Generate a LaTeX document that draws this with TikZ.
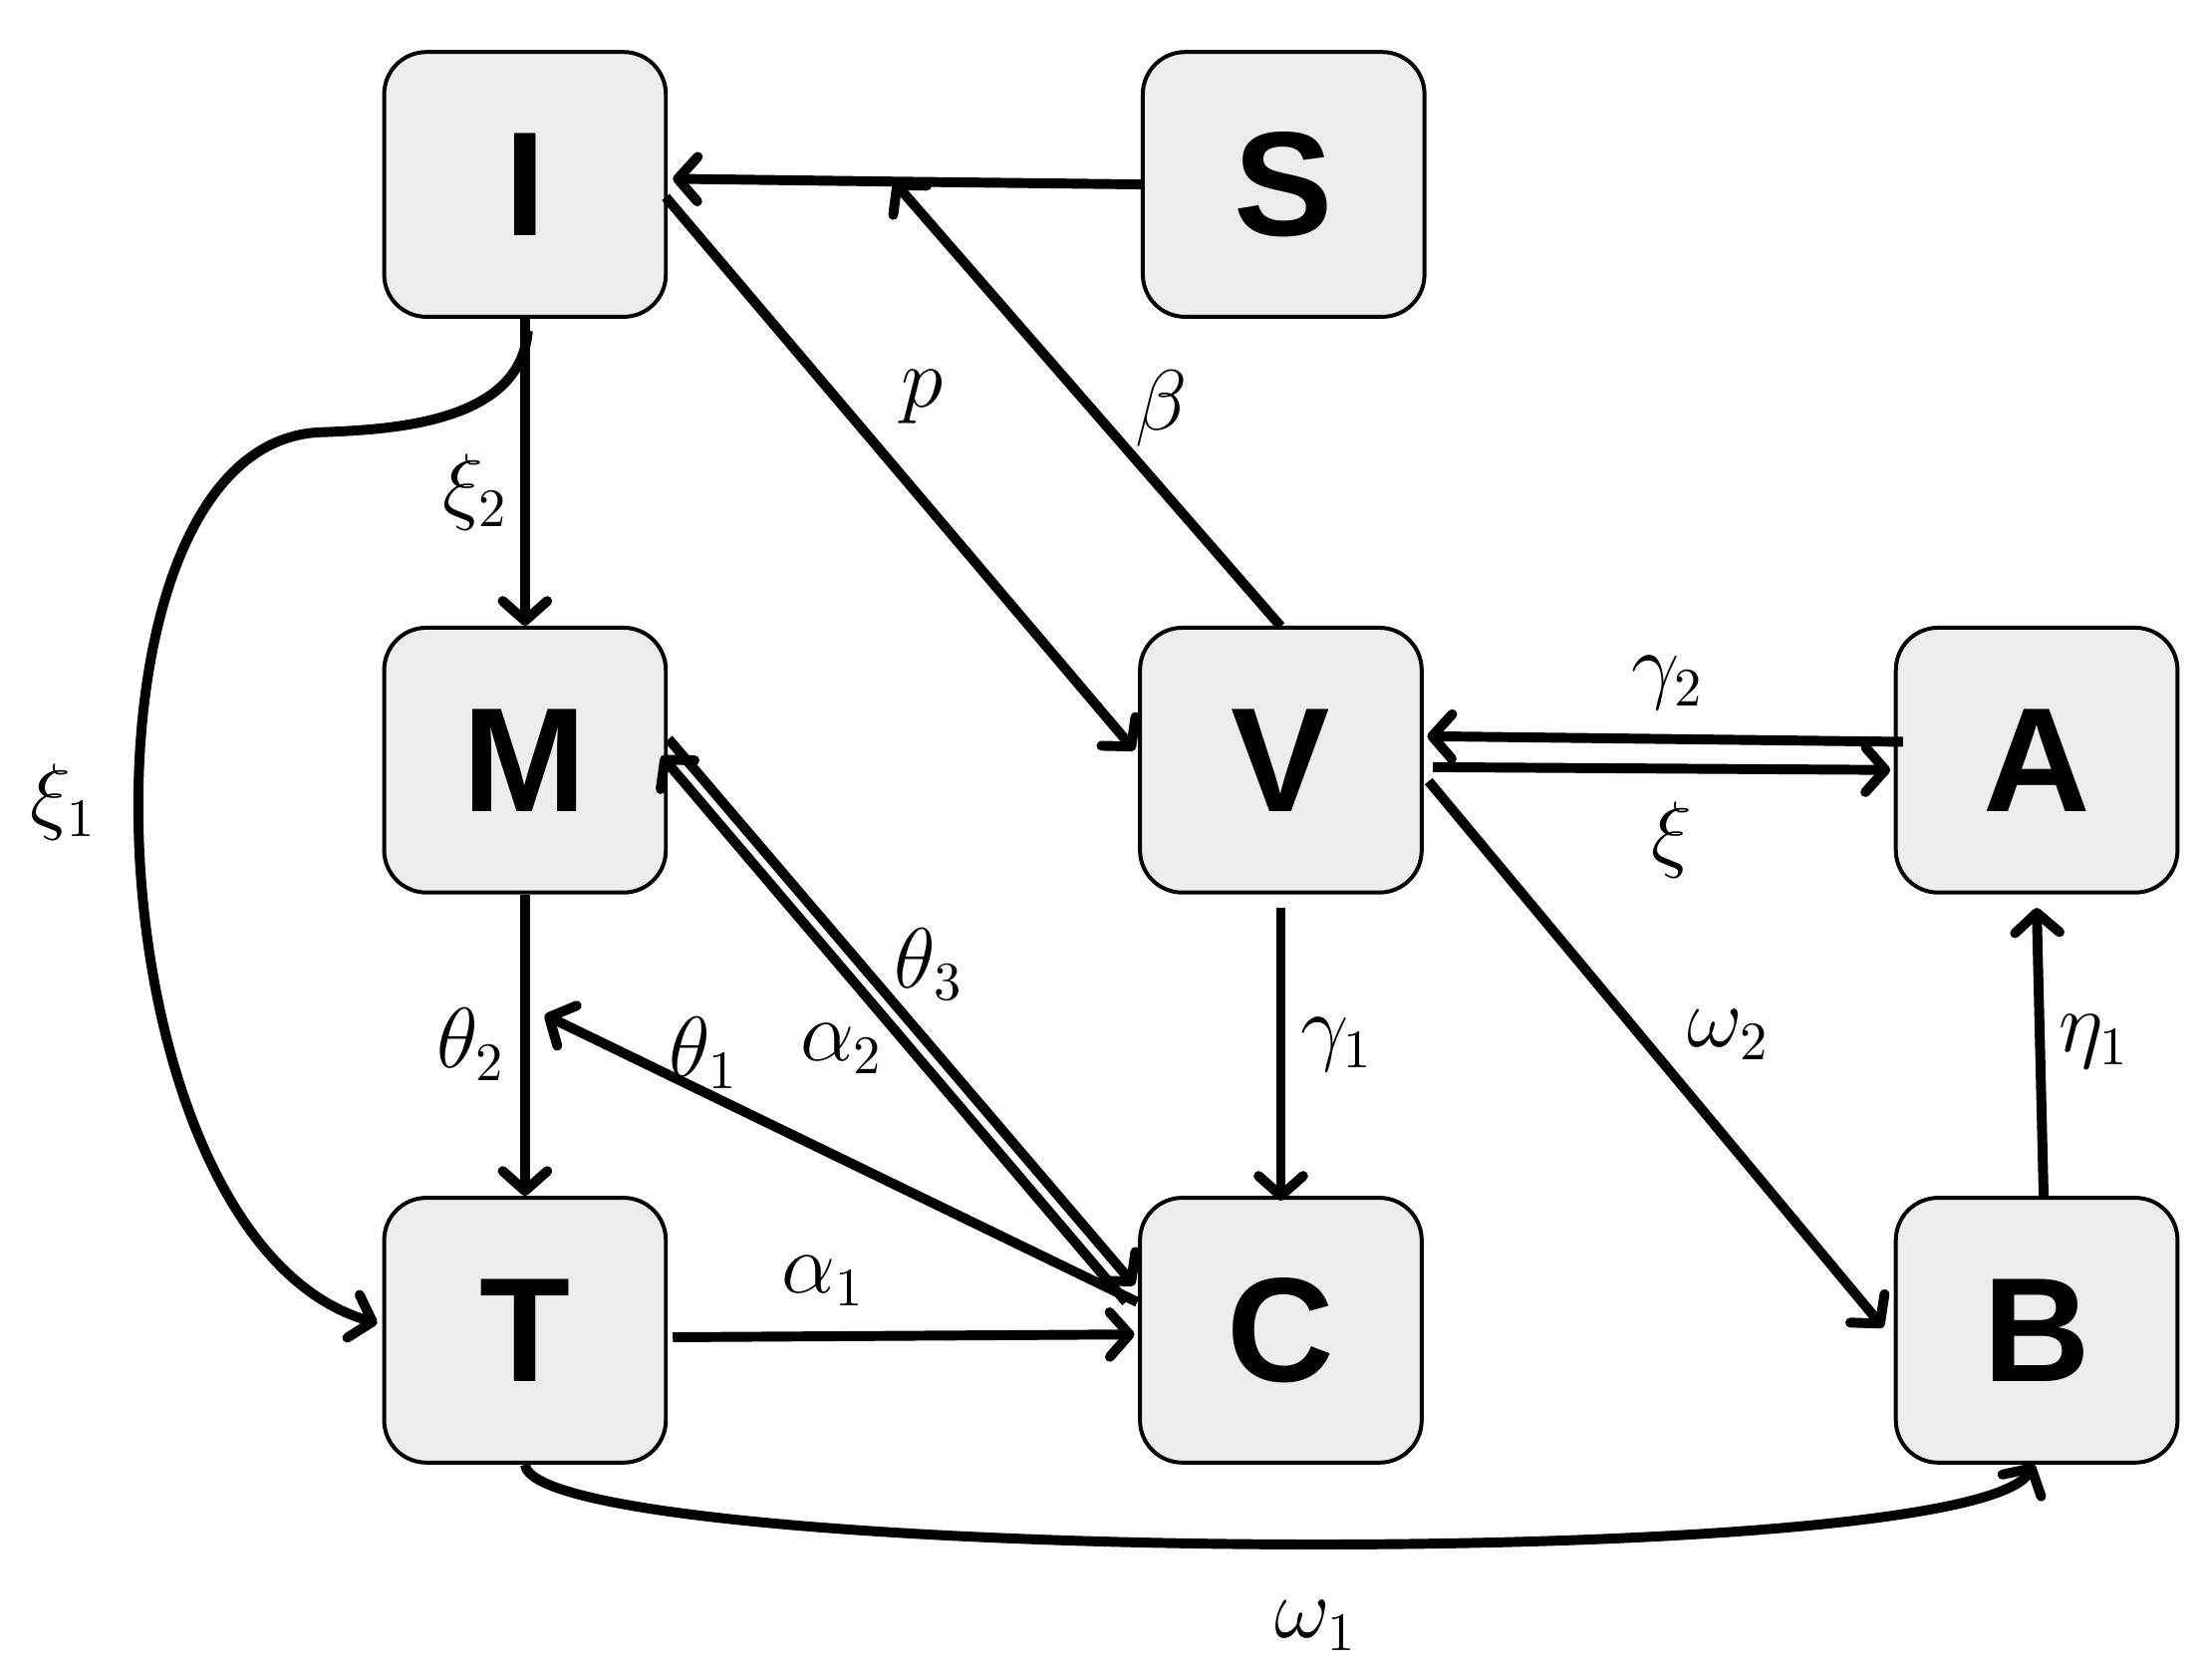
\documentclass[tikz,border=0pt]{standalone}
\usepackage{fontspec}
\usepackage{amsmath}
\setsansfont{Liberation Sans}
\usetikzlibrary{arrows.meta}
\tikzstyle{state} = [rectangle, rounded corners=0.3cm, minimum width=2cm, minimum height=1.88cm, draw=black, line width=0.8pt, fill=black!7, font=\sffamily\bfseries\fontsize{30}{32}\selectfont]
\tikzstyle{arrow} = [line width=2pt, -{Straight Barb[length=4pt,width=9pt,line width=2pt,round]}]
\tikzstyle{lbl} = [font=\fontsize{16}{18}\selectfont]

\begin{document}
\begin{tikzpicture}[x=0.01cm,y=-0.01cm]
\useasboundingbox (0,0) rectangle (1568,1193);

\node (i) [state] at (373,131) {I};
\node (s) [state] at (912,131) {S};
\node (m) [state] at (373,540) {M};
\node (v) [state] at (910,540) {V};
\node (a) [state] at (1447,540) {A};
\node (t) [state] at (373,945) {T};
\node (c) [state] at (910,945) {C};
\node (b) [state] at (1447,945) {B};

\coordinate (sv) at (635,129);
\coordinate (isplit) at (375,235);

\draw [line width=2pt] (s.west) -- (sv);
\draw [arrow] (sv) -- (478,127);
\draw [arrow] (910,445) -- (sv);
\draw [arrow] (473,140) -- (806,533);
\draw [arrow] (i.south) -- (m.north);
\draw [arrow] (isplit) .. controls (370,300) and (280,305) .. (230,307)
  .. controls (40,310) and (60,880) .. (268,940);
\draw [arrow] (m.south) -- (t.north);
\draw [arrow] (808,925) -- (387,721);
\draw [arrow] (475,525) -- (806,913);
\draw [arrow] (800,925) -- (470,537);
\draw [arrow] (478,950) -- (806,948);
\draw [arrow] (910,645) -- (910,853);
\draw [arrow] (1352,527) -- (1014,523);
\draw [arrow] (1018,545) -- (1343,547);
\draw [arrow] (1015,555) -- (1338,943);
\draw [arrow] (1452,852) -- (1447,645);
\draw [arrow] (t.south) .. controls (380,1110) and (1400,1120) .. (1445,1040);

\node (lxi2) [lbl] at (338,350) {$\xi_2$};
\node (lxi1) [lbl] at (45,570) {$\xi_1$};
\node (lp) [lbl] at (655,282) {$p$};
\node (lbeta) [lbl] at (825,290) {$\beta$};
\node (lth2) [lbl] at (335,742) {$\theta_2$};
\node (lth1) [lbl] at (500,748) {$\theta_1$};
\node (la2) [lbl] at (598,745) {$\alpha_2$};
\node (lth3) [lbl] at (660,685) {$\theta_3$};
\node (la1) [lbl] at (585,910) {$\alpha_1$};
\node (lg1) [lbl] at (950,742) {$\gamma_1$};
\node (lg2) [lbl] at (1185,485) {$\gamma_2$};
\node (lxi) [lbl] at (1188,597) {$\xi$};
\node (lw2) [lbl] at (1228,735) {$\omega_2$};
\node (le1) [lbl] at (1488,740) {$\eta_1$};
\node (lw1) [lbl] at (935,1155) {$\omega_1$};

\end{tikzpicture}
\end{document}
